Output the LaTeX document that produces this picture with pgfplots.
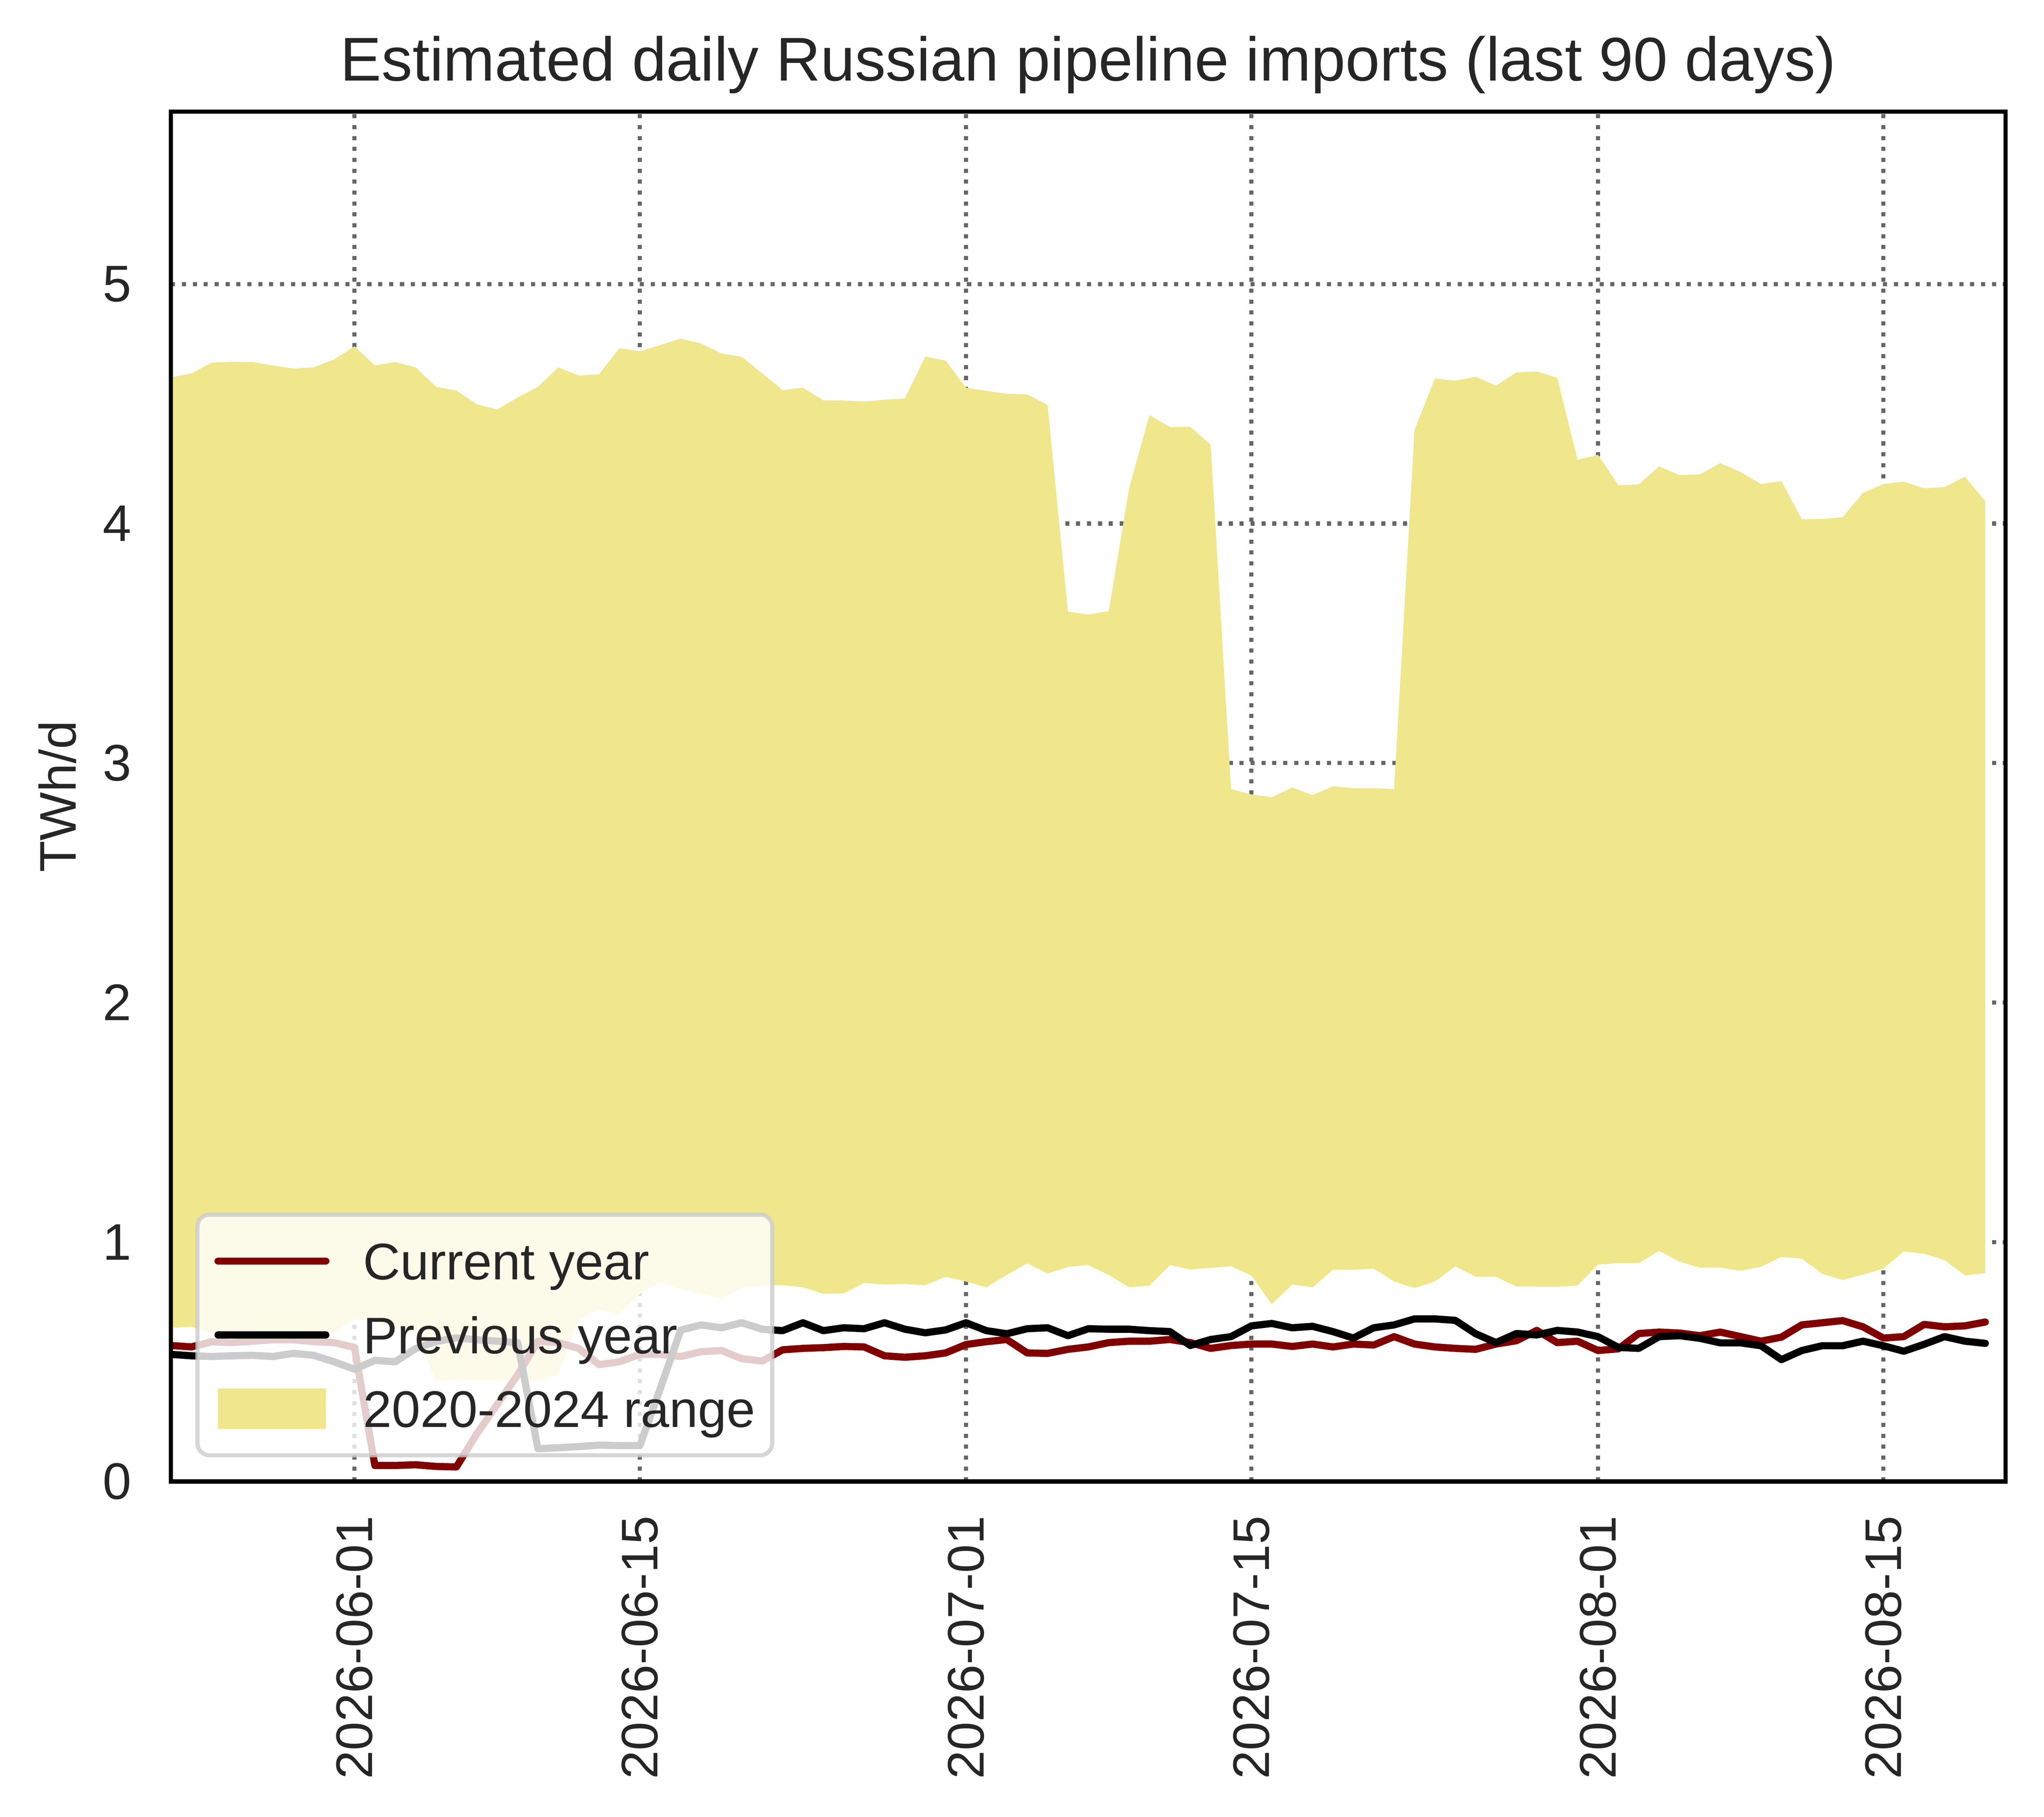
\documentclass[border=0pt]{standalone}
\usepackage{fontspec}
\setmainfont{Liberation Sans}
\usepackage{pgfplots}
\usepgfplotslibrary{fillbetween}
\pgfplotsset{compat=1.18}
\usepackage{pgfplotstable}
\definecolor{khaki}{RGB}{240,230,140}
\definecolor{maroonc}{RGB}{128,0,0}
\definecolor{txt}{RGB}{38,38,38}
\definecolor{gridc}{RGB}{102,102,102}
\definecolor{legframe}{RGB}{204,204,204}
\pgfplotsset{
  myarea/.style={legend image code/.code={\fill[##1, fill opacity=1, sharp corners] (0pt,-3.93pt) rectangle (20.95pt,3.93pt);}},
}
\pgfplotstableread{
d lo hi cur prev
0 0.642 4.610 0.568 0.531
1 0.646 4.627 0.562 0.525
2 0.620 4.672 0.584 0.522
3 0.630 4.675 0.580 0.525
4 0.630 4.674 0.586 0.527
5 0.620 4.660 0.592 0.522
6 0.625 4.647 0.592 0.535
7 0.615 4.652 0.584 0.527
8 0.623 4.685 0.580 0.500
9 0.679 4.740 0.560 0.469
10 0.667 4.660 0.067 0.506
11 0.640 4.674 0.067 0.500
12 0.623 4.652 0.070 0.555
13 0.420 4.571 0.063 0.585
14 0.426 4.555 0.061 0.600
15 0.426 4.498 0.199 0.592
16 0.426 4.476 0.322 0.586
17 0.420 4.526 0.445 0.580
18 0.426 4.571 0.586 0.137
19 0.445 4.652 0.580 0.141
20 0.679 4.618 0.556 0.146
21 0.716 4.623 0.488 0.152
22 0.700 4.732 0.500 0.150
23 0.784 4.719 0.531 0.150
24 0.833 4.745 0.531 0.388
25 0.802 4.772 0.522 0.632
26 0.784 4.752 0.542 0.654
27 0.765 4.710 0.547 0.642
28 0.808 4.696 0.513 0.663
29 0.818 4.627 0.503 0.636
30 0.820 4.557 0.550 0.630
31 0.811 4.567 0.556 0.663
32 0.784 4.514 0.559 0.630
33 0.786 4.514 0.564 0.642
34 0.829 4.509 0.562 0.638
35 0.823 4.517 0.525 0.663
36 0.825 4.522 0.519 0.636
37 0.820 4.697 0.525 0.621
38 0.855 4.680 0.537 0.633
39 0.835 4.567 0.572 0.663
40 0.811 4.554 0.584 0.630
41 0.863 4.542 0.593 0.617
42 0.911 4.539 0.537 0.638
43 0.869 4.495 0.535 0.642
44 0.896 3.632 0.552 0.609
45 0.904 3.620 0.562 0.638
46 0.863 3.634 0.580 0.636
47 0.811 4.148 0.586 0.636
48 0.818 4.453 0.586 0.630
49 0.904 4.403 0.593 0.626
50 0.886 4.404 0.580 0.568
51 0.892 4.329 0.556 0.593
52 0.899 2.891 0.568 0.605
53 0.860 2.869 0.574 0.650
54 0.740 2.857 0.574 0.660
55 0.823 2.898 0.564 0.642
56 0.811 2.866 0.574 0.648
57 0.884 2.903 0.562 0.626
58 0.884 2.895 0.574 0.599
59 0.889 2.895 0.570 0.642
60 0.835 2.891 0.605 0.654
61 0.808 4.391 0.574 0.679
62 0.835 4.606 0.562 0.679
63 0.899 4.596 0.556 0.673
64 0.855 4.613 0.552 0.617
65 0.855 4.576 0.574 0.580
66 0.814 4.631 0.588 0.618
67 0.814 4.635 0.631 0.612
68 0.813 4.609 0.580 0.631
69 0.819 4.266 0.586 0.624
70 0.906 4.287 0.547 0.605
71 0.912 4.160 0.554 0.560
72 0.912 4.163 0.618 0.556
73 0.963 4.239 0.624 0.605
74 0.918 4.202 0.620 0.609
75 0.893 4.205 0.609 0.598
76 0.893 4.252 0.624 0.579
77 0.880 4.215 0.605 0.579
78 0.897 4.165 0.586 0.567
79 0.938 4.177 0.603 0.509
80 0.931 4.018 0.654 0.547
81 0.867 4.019 0.663 0.567
82 0.842 4.026 0.672 0.567
83 0.864 4.128 0.646 0.586
84 0.889 4.165 0.599 0.567
85 0.961 4.175 0.605 0.544
86 0.951 4.147 0.656 0.573
87 0.925 4.152 0.646 0.605
88 0.861 4.195 0.650 0.586
89 0.870 4.093 0.666 0.577
}\datatable

\begin{document}
\begin{tikzpicture}
\begin{axis}[
  scale only axis,
  width=356.7pt, height=266.3pt,
  xmin=0, xmax=90, ymin=0, ymax=5.72,
  clip mode=individual,
  axis line style={line width=0.8pt, black},
  xtick={9,23,39,53,70,84},
  xticklabels={2026-06-01,2026-06-15,2026-07-01,2026-07-15,2026-08-01,2026-08-15},
  ytick={0,1,2,3,4,5},
  major tick length=0pt,
  grid=major,
  major grid style={draw=gridc, line width=0.8pt, dash pattern=on 0.8pt off 1.32pt},
  tick label style={font=\fontsize{10}{12}\selectfont, text=txt},
  xticklabel style={rotate=90, anchor=east, inner sep=0pt},
  yticklabel style={anchor=east, inner sep=0pt},
  xticklabel shift=6.5pt,
  yticklabel shift=7.5pt,
  /pgf/number format/assume math mode=true,
  title={Estimated daily Russian pipeline imports (last 90 days)},
  every axis title/.style={at={(0.5,1)}, anchor=base, yshift=6pt, inner sep=0pt, font=\fontsize{12}{14}\selectfont, text=txt},
  ylabel={TWh/d},
  every axis y label/.style={at={(axis description cs:0,0.5)}, xshift=-18.2pt, rotate=90, anchor=south, inner sep=0pt, font=\fontsize{10}{12}\selectfont, text=txt},
  legend image code/.code={\draw[#1, draw opacity=1, line cap=round] (0pt,0pt) -- (20.95pt,0pt);},
  legend style={
    at={(0,0)}, anchor=south west, xshift=4.75pt, yshift=4.7pt,
    fill=white, fill opacity=0.8, draw=legframe, draw opacity=0.8, text opacity=1,
    line width=0.8pt, rounded corners=2.3pt,
    inner xsep=3.3pt, inner ysep=5.05pt,
    row sep=6.4pt,
    /tikz/every odd column/.append style={column sep=6.6pt},
    cells={anchor=west},
    nodes={inner sep=0pt, text height=7.56pt, text depth=0.4pt, font=\fontsize{10}{12}\selectfont, text=txt, text opacity=1, fill opacity=1, draw opacity=1},
  },
]
\addlegendimage{maroonc, line width=1.4pt}
\addlegendentry{Current year}
\addlegendimage{black, line width=1.4pt}
\addlegendentry{Previous year}
\addlegendimage{myarea, fill=khaki, draw=none}
\addlegendentry{2020-2024 range}

\addplot[name path=hi, draw=none, forget plot] table[x=d, y=hi] {\datatable};
\addplot[name path=lo, draw=none, forget plot] table[x=d, y=lo] {\datatable};
\addplot[fill=khaki, draw=none, forget plot] fill between[of=hi and lo];
\addplot[maroonc, line width=1.4pt, line join=round, line cap=round, forget plot] table[x=d, y=cur] {\datatable};
\addplot[black, line width=1.4pt, line join=round, line cap=round, forget plot] table[x=d, y=prev] {\datatable};
\draw[black, line width=0.8pt] (rel axis cs:0,0) rectangle (rel axis cs:1,1);
\end{axis}
\path (-33.25pt,-65.2pt) rectangle (364.15pt,288.0pt);
\end{tikzpicture}
\end{document}
